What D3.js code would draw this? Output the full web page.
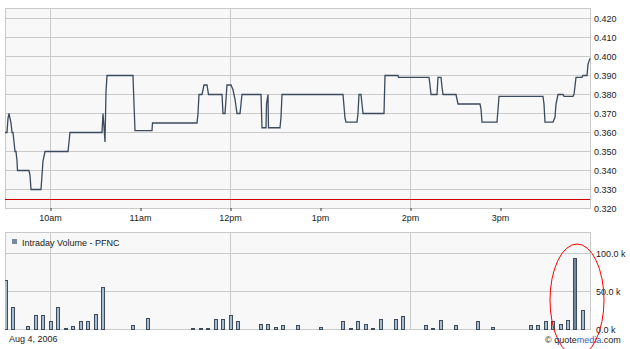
<!DOCTYPE html>
<html>
<head>
<meta charset="utf-8">
<script src="https://cdn.jsdelivr.net/npm/d3@7"></script>
<style>
  body { margin: 0; background: #ffffff; }
  text { font-family: "Liberation Sans", Arial, sans-serif; font-size: 9px; fill: #1a1a1a; }
</style>
</head>
<body>
<div id="chart"></div>
<script>
// PFNC intraday, Aug 4 2006 -- price (top) + 5 min volume (bottom)

// price: minutes after 9:30 open / last trade
var priceMinutes = [0, 1.33, 2, 2.67, 4, 4.67, 5.33, 6, 6.67, 7.33, 8, 8.33, 16, 16.67, 17.33, 24, 24.67, 25.33, 26.67, 42,
  42.67, 43.33, 64.67, 65.33, 66, 66.67, 67.33, 68, 85.33, 86, 86.67, 98, 98.33, 128, 128.67, 129.33, 131.33, 132, 132.67, 134.67,
  135.67, 144.67, 145.33, 146.67, 147.33, 148, 150.67, 152, 153.33, 154.67, 156.67, 157.33, 158, 170.67, 171.33, 174, 174.33, 175.33, 175.67, 183.33,
  184, 184.67, 225.33, 226.67, 227.33, 234.67, 235.33, 236, 237.33, 238, 238.67, 252.67, 253.33, 262, 262.33, 282.67, 283.33, 284, 288, 288.67,
  290.67, 291.33, 292, 300.67, 301.33, 302, 316.67, 317.33, 318, 328, 328.67, 329.33, 358.67, 359.33, 360, 365.33, 366.67, 367.33, 368.67, 372,
  372.67, 378.67, 379.33, 380.67, 384.67, 385.33, 388, 388.67, 390];
var priceValues = [0.360, 0.360, 0.3675, 0.370, 0.365, 0.360, 0.360, 0.355, 0.350, 0.350, 0.345, 0.340, 0.340, 0.3375, 0.330, 0.330, 0.3375, 0.345, 0.350, 0.350,
  0.355, 0.360, 0.360, 0.370, 0.363, 0.355, 0.3815, 0.390, 0.390, 0.375, 0.361, 0.361, 0.365, 0.365, 0.370, 0.380, 0.380, 0.3825, 0.385, 0.385,
  0.380, 0.380, 0.370, 0.370, 0.3775, 0.385, 0.385, 0.3825, 0.3775, 0.370, 0.370, 0.375, 0.380, 0.380, 0.3625, 0.3625, 0.375, 0.380, 0.3625, 0.3625,
  0.368, 0.380, 0.380, 0.3675, 0.3655, 0.3655, 0.370, 0.380, 0.380, 0.375, 0.370, 0.370, 0.390, 0.390, 0.389, 0.389, 0.385, 0.380, 0.380, 0.389,
  0.389, 0.384, 0.380, 0.380, 0.3775, 0.375, 0.375, 0.3725, 0.3655, 0.3655, 0.372, 0.379, 0.379, 0.375, 0.3655, 0.3655, 0.368, 0.375, 0.380, 0.380,
  0.379, 0.379, 0.380, 0.389, 0.389, 0.390, 0.390, 0.396, 0.399];
var prevClose = 0.325;

// volume: start of each 5 min bucket (minutes after open) / shares
var volMinutes = [0, 5, 15, 20, 25, 30, 35, 40, 45, 50, 55, 60, 65, 85, 95,
  125, 130, 135, 140, 145, 150, 155, 170, 175, 180, 185, 195,
  210, 225, 230, 235, 240, 245, 250, 260, 265, 280, 285, 290, 300,
  315, 325, 350, 355, 360, 365, 370, 375, 380, 385];
var volValues = [65000, 29600, 3500, 17800, 17800, 10400, 29600, 1000, 3500, 10400, 10400, 19100, 54800, 4800, 13900,
  1000, 1000, 1000, 12600, 12600, 17800, 10000, 6100, 6100, 2200, 4800, 4800,
  2200, 10000, 1000, 10000, 6100, 1000, 12600, 12600, 16500, 4800, 1000, 11300, 4800,
  10500, 2200, 4800, 4800, 10500, 10500, 6100, 11400, 93000, 24600];
var highlightMinute = 380;

var hourMinutes = [30, 90, 150, 210, 270, 330];
var hourLabels = ["10am", "11am", "12pm", "1pm", "2pm", "3pm"];
var gridHours = ["10am", "12pm", "2pm"];
var priceTicks = [0.32, 0.33, 0.34, 0.35, 0.36, 0.37, 0.38, 0.39, 0.40, 0.41, 0.42];
var volTicks = [0, 50000, 100000];
var dateLabel = "Aug 4, 2006";
var volumeTitle = "Intraday Volume - PFNC";

var svg = d3.select("#chart").append("svg").attr("width", 630).attr("height", 349);

var x = d3.scaleLinear().domain([0, 390]).range([5, 590]);
var yP = d3.scaleLinear().domain([0.32, 0.42]).range([208.5, 18.5]);
var yV = d3.scaleLinear().domain([0, 100000]).range([329.5, 253.5]);
function px(v){ return Math.round(v - 0.5) + 0.5; }

var gridCol = "#cacaca";

// ---------- price panel ----------
svg.append("rect").attr("x", 5.5).attr("y", 8.5).attr("width", 585).attr("height", 200)
  .attr("fill", "#f8f8f8").attr("stroke", gridCol);

svg.append("g").selectAll("line").data(priceTicks).enter().append("line")
  .attr("x1", 5).attr("x2", 590)
  .attr("y1", function(d){ return px(yP(d)); }).attr("y2", function(d){ return px(yP(d)); })
  .attr("stroke", gridCol);

var gridMins = hourMinutes.filter(function(m, i){ return gridHours.indexOf(hourLabels[i]) >= 0; });
svg.append("g").selectAll("line").data(gridMins).enter().append("line")
  .attr("x1", function(d){ return px(x(d)); }).attr("x2", function(d){ return px(x(d)); })
  .attr("y1", 8).attr("y2", 208).attr("stroke", gridCol);

// previous close
svg.append("line").attr("x1", 5).attr("x2", 590)
  .attr("y1", px(yP(prevClose))).attr("y2", px(yP(prevClose)))
  .attr("stroke", "#d40000");

var priceData = priceMinutes.map(function(m, i){ return [m, priceValues[i]]; });
svg.append("path").datum(priceData)
  .attr("d", d3.line().x(function(d){ return x(d[0]); }).y(function(d){ return yP(d[1]); }))
  .attr("fill", "none").attr("stroke", "#3b4a5c").attr("stroke-width", 1.3);

// right price axis
var axP = d3.axisRight(yP).tickValues(priceTicks).tickSize(0).tickPadding(0).tickFormat(d3.format(".3f"));
var gP = svg.append("g").attr("transform", "translate(594,0)").call(axP);
gP.select(".domain").remove();
gP.selectAll("text").attr("dy", "0.35em").style("font-family", "Liberation Sans, Arial, sans-serif").style("font-size", "9px").attr("fill", "#1a1a1a");

// time axis
var axT = d3.axisBottom(x).tickValues(hourMinutes).tickSize(3).tickPadding(4)
  .tickFormat(function(d, i){ return hourLabels[i]; });
var gT = svg.append("g").attr("transform", "translate(0,208)").call(axT);
gT.select(".domain").remove();
gT.selectAll("line").attr("stroke", "#333").attr("transform", "translate(0.5,0)");
gT.selectAll("text").style("font-family", "Liberation Sans, Arial, sans-serif").style("font-size", "9px").attr("fill", "#1a1a1a");

// ---------- volume panel ----------
svg.append("rect").attr("x", 5.5).attr("y", 232.5).attr("width", 585).attr("height", 97)
  .attr("fill", "#f8f8f8").attr("stroke", gridCol);

svg.append("g").selectAll("line").data(volTicks.slice(1)).enter().append("line")
  .attr("x1", 5).attr("x2", 590)
  .attr("y1", function(d){ return px(yV(d)); }).attr("y2", function(d){ return px(yV(d)); })
  .attr("stroke", gridCol);
svg.append("g").selectAll("line").data(gridMins).enter().append("line")
  .attr("x1", function(d){ return px(x(d)); }).attr("x2", function(d){ return px(x(d)); })
  .attr("y1", 232).attr("y2", 329).attr("stroke", gridCol);

svg.append("clipPath").attr("id", "volclip").append("rect")
  .attr("x", 5).attr("y", 232).attr("width", 585).attr("height", 98);

svg.append("g").attr("clip-path", "url(#volclip)")
  .selectAll("rect").data(volMinutes).enter().append("rect")
  .attr("x", function(d){ return Math.floor(x(d)) - 0.5; })
  .attr("y", function(d, i){ return px(yV(volValues[i])); })
  .attr("width", 3)
  .attr("height", function(d, i){ return 329.5 - px(yV(volValues[i])); })
  .attr("fill", function(d){ return d === highlightMinute ? "#6f87a1" : "#a8bccf"; })
  .attr("stroke", "#3c4c5e").attr("stroke-width", 1);

// legend
svg.append("rect").attr("x", 12).attr("y", 239).attr("width", 5).attr("height", 5).attr("fill", "#768ca3");
svg.append("text").attr("x", 22).attr("y", 245.5).text(volumeTitle);

// right volume axis
var axV = d3.axisRight(yV).tickValues(volTicks).tickSize(0).tickPadding(0)
  .tickFormat(function(d){ return (d / 1000).toFixed(1) + " k"; });
var gV = svg.append("g").attr("transform", "translate(596,0)").call(axV);
gV.select(".domain").remove();
gV.selectAll("text").attr("dy", "0.35em").style("font-family", "Liberation Sans, Arial, sans-serif").style("font-size", "9px").attr("fill", "#1a1a1a");

// footer
svg.append("text").attr("x", 9).attr("y", 342).text(dateLabel);
var cr = svg.append("text").attr("x", 545).attr("y", 342.5);
cr.append("tspan").text("\u00a9 quote");
cr.append("tspan").style("fill", "#2a5fc4").text("media");
cr.append("tspan").text(".com");

// red ellipse round the volume spike
svg.append("ellipse").attr("cx", 577).attr("cy", 300).attr("rx", 27).attr("ry", 56)
  .attr("fill", "none").attr("stroke", "#ff0000").attr("stroke-width", 1);
</script>
</body>
</html>
